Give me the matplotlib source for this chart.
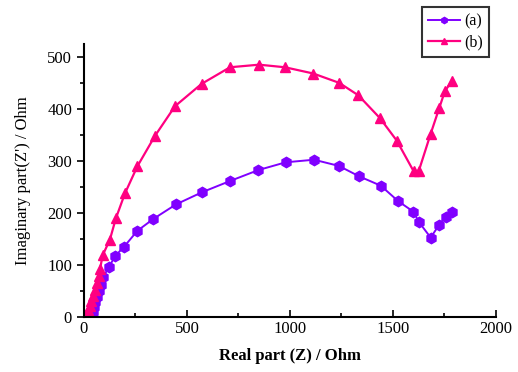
import matplotlib
matplotlib.use("Agg")
import matplotlib.pyplot as plt
from matplotlib.ticker import MultipleLocator

a_x = [38, 42, 48, 55, 65, 75, 81, 94, 123, 150, 194, 259, 337, 447, 571, 709, 846,
       979, 1117, 1238, 1336, 1441, 1526, 1599, 1626, 1683, 1723, 1755, 1785]
a_y = [2, 8, 18, 28, 38, 50, 61, 77, 96, 116, 134, 165, 188, 216, 239, 261, 282,
       297, 302, 290, 270, 252, 222, 202, 182, 152, 176, 192, 202]

b_x = [15, 18, 22, 28, 35, 42, 52, 62, 72, 78, 91, 126, 155, 199, 259, 345, 442, 571, 709, 850,
       976, 1113, 1239, 1332, 1437, 1518, 1600, 1625, 1683, 1725, 1752, 1785]
b_y = [0, 5, 12, 20, 30, 40, 52, 65, 78, 91, 118, 148, 189, 237, 289, 348, 405, 448, 480, 485,
       480, 468, 450, 426, 382, 339, 280, 280, 352, 402, 434, 453]

labels = ["(a)", "(b)"]

plt.rcParams['font.family'] = ['Liberation Serif', 'DejaVu Serif']

fig = plt.figure(figsize=(5.18, 3.72), dpi=100)
ax = fig.add_axes([0.162, 0.149, 0.7955, 0.733])

la, = ax.plot(a_x, a_y, color='#8000ff', marker='h', markersize=7.5, linewidth=1.4, label=labels[0])
lb, = ax.plot(b_x, b_y, color='#ff0080', marker='^', markersize=7.5, linewidth=1.6, label=labels[1])

ax.set_xlim(0, 2000)
ax.set_ylim(0, 525)
ax.xaxis.set_major_locator(MultipleLocator(500))
ax.xaxis.set_minor_locator(MultipleLocator(250))
ax.yaxis.set_major_locator(MultipleLocator(100))
ax.yaxis.set_minor_locator(MultipleLocator(50))
ax.spines['top'].set_visible(False)
ax.spines['right'].set_visible(False)
for s in ['left', 'bottom']:
    ax.spines[s].set_linewidth(1.5)
ax.tick_params(axis='x', which='both', direction='in', width=1.2)
ax.tick_params(axis='x', which='major', length=5, labelsize=12, pad=3)
ax.tick_params(axis='x', which='minor', length=3)
ax.tick_params(axis='y', which='both', direction='out', width=1.2)
ax.tick_params(axis='y', which='major', length=5, labelsize=12)
ax.tick_params(axis='y', which='minor', length=3)

ax.set_xlabel("Real part (Z) / Ohm", fontsize=12, fontweight='bold', labelpad=8)
ax.set_ylabel("Imaginary part(Z') / Ohm", fontsize=12, labelpad=12)

leg = fig.legend(handles=[la, lb], loc='upper left', bbox_to_anchor=(417/518, 1 - 2/372),
                 fontsize=11.5, frameon=True, fancybox=False, edgecolor='black',
                 handlelength=2.0, borderpad=0.4, labelspacing=0.35, handletextpad=0.25,
                 borderaxespad=0.3, markerscale=0.6)
leg.get_frame().set_linewidth(1.5)

fig.savefig("out.png", dpi=100)
